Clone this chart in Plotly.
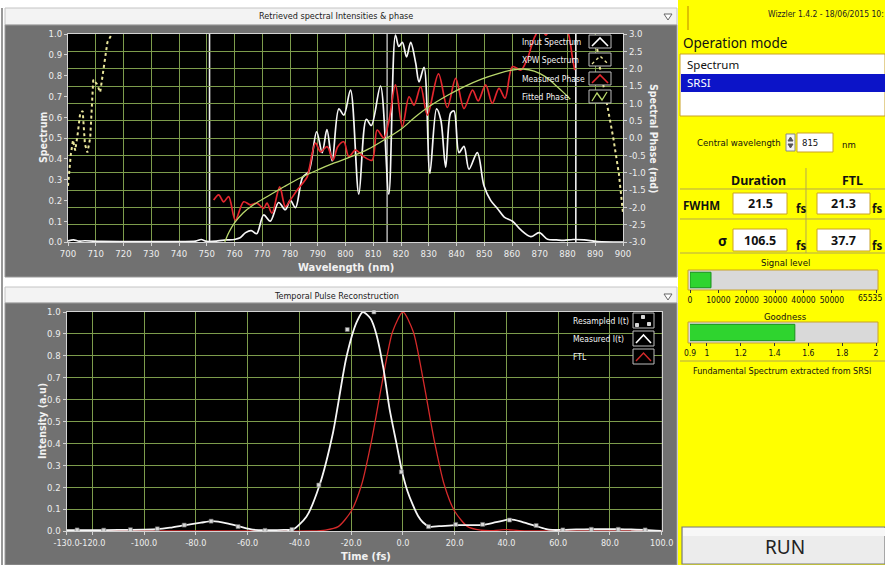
import plotly.graph_objects as go

W, H = 885, 565

# ---------------- spectral intensities & phase ----------------
input_wl = [700, 702, 704, 706, 712, 725, 740, 746, 748, 750, 754, 757, 760, 762, 764, 766, 768,
            770.5, 772.9, 775.9, 778.3, 780.1, 782, 784.5, 786.8, 789.6, 791.6, 793.3, 795.2,
            797.6, 799.4, 801.8, 804.8, 807.5, 809.3, 812.6, 815.6, 818, 819.2, 820.5, 822,
            823.5, 825.3, 826.5, 828.3, 830.4, 832.8, 834.3, 836.1, 837.9, 839.1, 840.9, 842.7,
            844.5, 847.5, 849.9, 852.3, 854.8, 857.2, 860.2, 863.2, 866.8, 869.8, 872.8, 876,
            878.8, 882, 886, 890.9, 900]
input_spec = [0.005, 0.01, 0.004, 0.006, 0.003, 0.002, 0.002, 0.004, 0.012, 0.003, 0.005, 0.01,
              0.012, 0.02, 0.045, 0.055, 0.04, 0.13, 0.10, 0.19, 0.155, 0.20, 0.165, 0.31, 0.34,
              0.53, 0.43, 0.54, 0.39, 0.64, 0.61, 0.73, 0.23, 0.59, 0.56, 0.75, 0.23, 0.995, 0.94,
              0.96, 0.89, 0.96, 0.86, 0.77, 0.84, 0.33, 0.64, 0.59, 0.36, 0.62, 0.63, 0.43, 0.46,
              0.35, 0.43, 0.27, 0.20, 0.16, 0.12, 0.10, 0.058, 0.026, 0.045, 0.013, 0.01, 0.008,
              0.012, 0.01, 0.002, 0.0]

xpw_wl = [700, 701, 701.8, 702.6, 703.5, 704.4, 705.3, 706.1, 707, 708, 709.1, 710.4, 711.6,
          712.8, 714.2, 715.8, 718, None, 889, 891.5, 894, 896.5, 898.5, 900]
xpw_spec = [0.27, 0.42, 0.49, 0.44, 0.52, 0.62, 0.63, 0.47, 0.43, 0.50, 0.78, 0.76, 0.72, 0.84,
            0.96, 1.0, 1.1, None, 1.1, 0.85, 0.68, 0.50, 0.33, 0.14]

phase_wl = [752.5, 754.3, 756.1, 757.9, 760.3, 763.3, 765.7, 768.1, 770.5, 771.7, 773.5, 776.3,
            778.3, 780.1, 782.6, 785, 786.2, 789.2, 791, 793.4, 795.5, 797.2, 799.4, 801.2,
            803.6, 806.6, 809.6, 811.4, 813.8, 815.6, 818, 820.5, 822.9, 824.7, 827.1, 829.5,
            833.5, 836.7, 839.7, 842.7, 845.8, 847.8, 850.5, 852.9, 855.3, 857.5, 860.2, 863.2,
            865.6, 868, 870.4, 872.2, 874, 877, 880, 881.8, 882.6]
phase_rad = [-1.79, -1.64, -1.84, -1.69, -2.37, -1.84, -1.93, -1.88, -2.03, -1.88, -2.17, -1.41,
             -1.98, -1.79, -1.50, -1.26, -1.12, -0.15, -0.40, -0.25, -0.64, -0.25, -0.11, -0.54,
             -0.35, -0.54, -0.64, 0.23, 0.0, 0.47, 1.53, 0.33, 1.19, 0.95, 1.48, 0.66,
             1.85, 0.88, 1.72, 0.85, 1.38, 1.07, 1.53, 1.0, 1.43, 1.15, 2.06, 1.96,
             2.30, 2.88, 3.2, 2.97, 3.2, 3.3, 3.07, 2.30, 1.96]

fit_wl = [756.5, 758, 760, 763, 767, 772, 778, 784, 790, 796, 802, 808, 815, 820, 825, 830, 837,
          843, 849, 855, 860, 864, 868, 872, 876, 879, 881]
fit_rad = [-3.0, -2.72, -2.45, -2.17, -1.92, -1.68, -1.40, -1.14, -0.92, -0.72, -0.54, -0.33, 0.0,
           0.25, 0.60, 0.90, 1.24, 1.49, 1.70, 1.86, 1.96, 1.99, 1.93, 1.77, 1.50, 1.28, 1.12]

cursor_wl = [751, 815, 883]
cursor_col = ['#f0f0f0', '#a8a8a8', '#f0f0f0']

wl_ticks = list(range(700, 901, 10))
spec_ticks = [0.0, 0.1, 0.2, 0.3, 0.4, 0.5, 0.6, 0.7, 0.8, 0.9, 1.0]
phase_ticks = [-3.0, -2.5, -2.0, -1.5, -1.0, -0.5, 0.0, 0.5, 1.0, 1.5, 2.0, 2.5, 3.0]

# ---------------- temporal pulse ----------------
meas_t = [-130, -120, -110, -100, -95, -90, -84, -78, -73.5, -68, -63, -58, -52, -46, -42.5,
          -37.3, -32.2, -27, -21.9, -18, -15.5, -12.5, -10.3, -7.5, -5.2, -2.5, -0.3, 1.8, 3.8,
          5.8, 7.7, 10.2, 14, 20.5, 25, 30.8, 36, 41.7, 46, 51.3, 55, 57.7, 61.6, 67, 73.1, 78,
          83.4, 88, 93.7, 100]
meas_I = [0.004, 0.004, 0.005, 0.006, 0.008, 0.015, 0.027, 0.038, 0.045, 0.035, 0.02, 0.006,
          0.004, 0.005, 0.007, 0.065, 0.21, 0.45, 0.79, 0.95, 1.0, 0.97, 0.90, 0.74, 0.56, 0.40,
          0.27, 0.18, 0.12, 0.07, 0.04, 0.02, 0.022, 0.027, 0.027, 0.028, 0.04, 0.053, 0.042,
          0.023, 0.01, 0.005, 0.005, 0.007, 0.008, 0.008, 0.008, 0.007, 0.005, 0.0]

resamp_t = [-125.9, -115.6, -105.3, -94.9, -84.5, -74.1, -63.7, -53.3, -42.9, -32.5, -21.5,
            -11.2, -0.6, 9.9, 20.4, 30.8, 41.2, 51.5, 61.8, 72.8, 83.2, 93.6]
resamp_I = [0.005, 0.004, 0.006, 0.01, 0.027, 0.045, 0.02, 0.003, 0.007, 0.21, 0.92, 1.0, 0.27,
            0.02, 0.03, 0.03, 0.05, 0.025, 0.005, 0.008, 0.008, 0.005]

ftl_t = [-130, -60, -35, -30, -25, -20, -16, -12, -8, -4, 0, 4, 8, 12, 16, 20, 25, 30, 35,
         40, 45, 60, 100]
ftl_I = [0.0, 0.0, 0.0, 0.004, 0.02, 0.09, 0.21, 0.42, 0.68, 0.91, 1.0, 0.91, 0.68, 0.42, 0.21,
         0.09, 0.02, 0.004, 0.002, 0.006, 0.002, 0.0, 0.0]

time_ticks = [-130, -120, -100, -80, -60, -40, -20, 0, 20, 40, 60, 80, 100]
int_ticks = [0.0, 0.1, 0.2, 0.3, 0.4, 0.5, 0.6, 0.7, 0.8, 0.9, 1.0]

# ---------------- control panel values ----------------
central_wavelength = 815
fwhm_duration, fwhm_ftl = 21.5, 21.3
sigma_duration, sigma_ftl = 106.5, 37.7
signal_level = 7400
signal_max = 65535
signal_ticks = [0, 10000, 20000, 30000, 40000, 50000, signal_max]
goodness = 1.52
goodness_ticks = [0.9, 1, 1.2, 1.4, 1.6, 1.8, 2]

# ---------------- styling ----------------
NARROW = "DejaVu Sans Condensed, Liberation Sans Narrow, Roboto Condensed, Arial Narrow, sans-serif"
UI = "Noto Sans, Open Sans, sans-serif"
GRID = '#7d9c4c'
AXL = '#d4d4d4'
PANEL = '#717171'
YELLOW = '#ffff00'
BOXLINE = '#c9a227'
SEP = '#b4a84e'
TICKF = dict(family=NARROW, size=9.5, color='#eeeeee')
TICKF_T = dict(family=NARROW, size=9, color='#eeeeee')


def X(px):
    return px / W


def Y(py):
    return 1 - py / H


shapes = []
annots = []


def rect(x0, y0, x1, y1, fill, line=None, lw=1, layer='below'):
    shapes.append(dict(type='rect', xref='paper', yref='paper', x0=X(x0), x1=X(x1),
                       y0=Y(y1), y1=Y(y0), fillcolor=fill, layer=layer,
                       line=dict(color=line if line else fill, width=lw if line else 0)))


def poly(pts, color, width=1, dash='solid', layer='above', fill=None):
    d = 'M ' + ' L '.join(f'{X(a):.5f},{Y(b):.5f}' for a, b in pts)
    if fill:
        d += ' Z'
    shapes.append(dict(type='path', xref='paper', yref='paper', path=d, layer=layer,
                       fillcolor=fill if fill else 'rgba(0,0,0,0)',
                       line=dict(color=color, width=width, dash=dash)))


def text(x, y, s, size=10, color='#111', anchor='center', family=UI, bold=False, angle=0):
    annots.append(dict(xref='paper', yref='paper', x=X(x), y=Y(y), xanchor=anchor,
                       yanchor='middle', showarrow=False, textangle=angle,
                       text=f'<b>{s}</b>' if bold else s,
                       font=dict(family=family, size=size, color=color)))


# ---- left side panels ----
rect(0, 0, 678, 565, '#ffffff')
rect(5, 8, 677, 25, '#f3f3f3', '#c4c4c4')
rect(5, 25, 677, 277, PANEL, '#9a9a9a')
rect(5, 287, 677, 303, '#f3f3f3', '#c4c4c4')
rect(5, 303, 677, 565, PANEL, '#9a9a9a')
rect(68, 34, 623, 242, '#000000')
rect(66.5, 312, 661.7, 531, '#000000')
poly([(2, 8), (2, 565)], '#333333', 1, layer='below')

text(336, 16, 'Retrieved spectral Intensities &amp; phase', 9, '#222', family=NARROW)
text(336, 296, 'Temporal Pulse Reconstruction', 9, '#222', family=NARROW)
for ty in (14, 294):
    poly([(664, ty), (672, ty), (668, ty + 6)], '#666666', 1, fill='#ffffff')

# axis titles
text(43, 138, 'Spectrum', 10.5, '#f2f2f2', family=NARROW, bold=True, angle=-90)
text(346, 268, 'Wavelength (nm)', 11, '#f2f2f2', family=NARROW, bold=True)
text(654, 138, 'Spectral Phase (rad)', 10.5, '#f2f2f2', family=NARROW, bold=True, angle=90)
text(42, 421, 'Intensity (a.u)', 10.5, '#f2f2f2', family=NARROW, bold=True, angle=-90)
text(366, 556, 'Time (fs)', 11, '#f2f2f2', family=NARROW, bold=True)

# legend of the spectral graph
leg_top = [('Input Spectrum', 42), ('XPW Spectrum', 60), ('Measured Phase', 79), ('Fitted Phase', 97)]
for name, cy in leg_top:
    text(520, cy, name, 8.5, '#f4f4f4', family=NARROW, anchor='left')
    rect(589, cy - 7, 611, cy + 6, '#000000', '#bdbdbd', 1, layer='above')
poly([(592, 46), (600, 38), (608, 46)], '#ffffff', 1.6)
poly([(592, 64), (600, 56), (608, 64)], '#e8e49a', 1.4, dash='dot')
poly([(592, 83), (600, 75), (608, 83)], '#e3262e', 1.6)
poly([(592, 101), (597, 93), (602, 100), (607, 92)], '#b9d86c', 1.3)

# legend of the temporal graph
leg_bot = [('Resampled I(t)', 321), ('Measured I(t)', 339), ('FTL', 357)]
for name, cy in leg_bot:
    text(571, cy, name, 8.5, '#f4f4f4', family=NARROW, anchor='left')
    rect(633, cy - 8, 654, cy + 7, '#000000', '#bdbdbd', 1, layer='above')
for (mx, my) in [(637, 325), (643, 317), (649, 324)]:
    rect(mx - 1.5, my - 1.5, mx + 1.5, my + 1.5, '#d8d8d8', '#d8d8d8', 1, layer='above')
poly([(636, 343), (643.5, 335), (651, 343)], '#ffffff', 1.6)
poly([(636, 361), (643.5, 353), (651, 361)], '#d42a2a', 1.4)

# ---- control panel (right) ----
rect(678, 0, 885, 565, YELLOW)
poly([(688, 6), (688, 30)], '#c89a00', 1.2, layer='below')
text(766, 14, 'Wizzler 1.4.2 - 18/06/2015 10:', 8.5, '#222', family=NARROW, anchor='left')
text(681, 43, 'Operation mode', 13.5, '#111', anchor='left')
rect(680, 54, 885, 116, '#ffffff', BOXLINE, 1)
text(685, 64, 'Spectrum', 11.5, '#111', anchor='left')
rect(681, 74, 885, 92, '#0c14c8')
text(685, 83, 'SRSI', 11.5, '#ffffff', anchor='left')

text(783, 142, 'Central wavelength', 9.5, '#111', family=NARROW, anchor='right')
rect(786, 134, 795, 151, '#f4f4f4', '#888888', 1)
poly([(788, 141), (790.5, 137), (793, 141)], '#555555', 1, fill='#555555')
poly([(788, 144), (790.5, 148), (793, 144)], '#555555', 1, fill='#555555')
rect(797, 133, 833, 152, '#ffffff', BOXLINE, 1)
text(800, 142.5, str(central_wavelength), 9.5, '#111', family=NARROW, anchor='left')
text(840, 144, 'nm', 9.5, '#111', family=NARROW, anchor='left')

# duration table
poly([(806, 168), (806, 253)], SEP, 1, layer='below')
for ly in (189, 219, 253):
    poly([(680, ly), (885, ly)], SEP, 1, layer='below')
text(758, 180, 'Duration', 12.5, '#111', bold=True)
text(852, 180, 'FTL', 12.5, '#111', bold=True)
text(681, 205, 'FWHM', 11.5, '#111', anchor='left', bold=True)
text(722, 241, 'σ', 14, '#111', bold=True)
cells = [(fwhm_duration, 733, 787, 193, 214), (fwhm_ftl, 817, 870, 193, 214),
         (sigma_duration, 733, 787, 229, 251), (sigma_ftl, 817, 870, 229, 251)]
for val, x0, x1, y0, y1 in cells:
    rect(x0, y0, x1, y1, '#ffffff', BOXLINE, 1)
    text((x0 + x1) / 2, (y0 + y1) / 2, f'{val:.1f}', 12.5, '#111', bold=True)
    if x1 < 850:
        text(x1 + 7, y1 - 5, 'fs', 11.5, '#111', anchor='left', bold=True)
    else:
        text(884, y1 - 5, 'fs', 11.5, '#111', anchor='right', bold=True)

# level indicators
text(785, 263, 'Signal level', 9.5, '#111', family=NARROW)
rect(688, 270, 878, 290, '#d9d9d9', BOXLINE, 1)
# the full-scale label sits against the window edge, so it is right-aligned there
text(884, 298, str(signal_max), 8.5, '#111', family=NARROW, anchor='right')
text(785, 316, 'Goodness', 9.5, '#111', family=NARROW)
rect(688, 322, 878, 343, '#d9d9d9', BOXLINE, 1)
poly([(680, 361), (885, 361)], SEP, 1, layer='below')
text(782, 371, 'Fundamental Spectrum extracted from SRSI', 9, '#111', family=NARROW)

# run button
rect(682, 527, 885, 564, '#ececec', '#7a7a7a', 1.2)
rect(683, 528, 885, 536, '#f7f7f7')
text(785, 547, 'RUN', 19, '#222', family=UI)

# ---------------- traces ----------------
fig = go.Figure()
fig.add_trace(go.Scatter(x=input_wl, y=input_spec, xaxis='x', yaxis='y', mode='lines',
                         line=dict(color='#f6f6f6', width=1.7, shape='spline', smoothing=0.9),
                         hoverinfo='skip', name='Input Spectrum'))
fig.add_trace(go.Scatter(x=xpw_wl, y=xpw_spec, xaxis='x', yaxis='y', mode='lines',
                         line=dict(color='#e8e49a', width=2, dash='dot'), connectgaps=False,
                         hoverinfo='skip', name='XPW Spectrum'))
fig.add_trace(go.Scatter(x=phase_wl, y=phase_rad, xaxis='x', yaxis='y2', mode='lines',
                         line=dict(color='#e3262e', width=1.7, shape='spline', smoothing=0.9),
                         hoverinfo='skip', name='Measured Phase'))
fig.add_trace(go.Scatter(x=fit_wl, y=fit_rad, xaxis='x', yaxis='y2', mode='lines',
                         line=dict(color='#b9d86c', width=1.3, shape='spline'),
                         hoverinfo='skip', name='Fitted Phase'))

fig.add_trace(go.Scatter(x=ftl_t, y=ftl_I, xaxis='x2', yaxis='y3', mode='lines',
                         line=dict(color='#d42a2a', width=1.3, shape='spline', smoothing=0.7),
                         hoverinfo='skip', name='FTL'))
fig.add_trace(go.Scatter(x=meas_t, y=meas_I, xaxis='x2', yaxis='y3', mode='lines',
                         line=dict(color='#f6f6f6', width=1.8, shape='spline', smoothing=0.7),
                         hoverinfo='skip', name='Measured I(t)'))
fig.add_trace(go.Scatter(x=resamp_t, y=resamp_I, xaxis='x2', yaxis='y3', mode='markers',
                         marker=dict(symbol='square', size=4, color='#d8d8d8',
                                     line=dict(color='#666666', width=0.6)),
                         cliponaxis=False, hoverinfo='skip', name='Resampled I(t)'))

fig.add_trace(go.Bar(x=[signal_level], y=[0.5], base=0, orientation='h', width=0.86,
                     xaxis='x3', yaxis='y4', marker=dict(color='#2fd42f', line=dict(color='#1b8f1b', width=1)),
                     hoverinfo='skip'))
fig.add_trace(go.Bar(x=[goodness], y=[0.5], orientation='h', width=0.86,
                     xaxis='x4', yaxis='y5', marker=dict(color='#2fd42f', line=dict(color='#1b8f1b', width=1)),
                     hoverinfo='skip'))

# cursors on the spectral graph
for cw, cc in zip(cursor_wl, cursor_col):
    shapes.append(dict(type='line', xref='x', yref='paper', x0=cw, x1=cw, y0=Y(242), y1=Y(34),
                       line=dict(color=cc, width=1.6), layer='between'))

common = dict(zeroline=False, showline=True, linecolor=AXL, linewidth=1, ticks='outside',
              ticklen=3, tickcolor=AXL, fixedrange=True, tickangle=0, automargin=False)
small = dict(zeroline=False, showline=False, showgrid=False, ticks='outside', ticklen=3,
             tickcolor='#333333', tickfont=dict(family=NARROW, size=8.5, color='#111'),
             fixedrange=True, tickangle=0, automargin=False)

fig.update_layout(
    width=W, height=H, autosize=False,
    margin=dict(l=0, r=0, t=0, b=0, pad=0, autoexpand=False),
    paper_bgcolor='#ffffff', plot_bgcolor='rgba(0,0,0,0)', showlegend=False,
    xaxis=dict(domain=[X(68), X(623)], range=[700, 900], anchor='y', tickvals=wl_ticks,
               ticktext=[str(v) for v in wl_ticks], showgrid=True, gridcolor=GRID,
               gridwidth=1, mirror=True, tickfont=TICKF, **common),
    yaxis=dict(domain=[Y(242), Y(34)], range=[0, 1], anchor='x', tickvals=spec_ticks,
               ticktext=[f'{v:.1f}' for v in spec_ticks], showgrid=False, mirror=True,
               tickfont=TICKF, **common),
    yaxis2=dict(overlaying='y', side='right', anchor='x', range=[-3, 3], tickvals=phase_ticks,
                ticktext=[f'{v:.1f}' for v in phase_ticks], showgrid=True, gridcolor=GRID,
                gridwidth=1, tickfont=TICKF, **common),
    xaxis2=dict(domain=[X(66.5), X(661.7)], range=[-130, 100], anchor='y3', tickvals=time_ticks,
                ticktext=[f'{v:.1f}' for v in time_ticks], showgrid=True, gridcolor=GRID,
                gridwidth=1, mirror=True, tickfont=TICKF_T, **common),
    yaxis3=dict(domain=[Y(531), Y(312)], range=[0, 1], anchor='x2', tickvals=int_ticks,
                ticktext=[f'{v:.1f}' for v in int_ticks], showgrid=True, gridcolor=GRID,
                gridwidth=1, mirror=True, tickfont=TICKF, **common),
    xaxis3=dict(domain=[X(690), X(876)], range=[0, signal_max], anchor='y4', tickvals=signal_ticks,
                ticktext=[str(v) if v != signal_max else '' for v in signal_ticks], **small),
    yaxis4=dict(domain=[Y(289), Y(271)], range=[0, 1], anchor='x3', visible=False, fixedrange=True),
    xaxis4=dict(domain=[X(690), X(876)], range=[0.9, 2], anchor='y5', tickvals=goodness_ticks,
                ticktext=[str(v) for v in goodness_ticks], **small),
    yaxis5=dict(domain=[Y(342), Y(323)], range=[0, 1], anchor='x4', visible=False, fixedrange=True),
    shapes=shapes, annotations=annots,
)

# page chrome: no margins or scrollbars, the figure fills the window exactly
PAGE_JS = (
    "var de=document.documentElement, b=document.body;"
    "de.style.margin='0'; de.style.padding='0'; de.style.overflow='hidden';"
    "b.style.margin='0'; b.style.padding='0'; b.style.overflow='hidden';"
    "var w=b.firstElementChild; if (w) { w.style.width='885px'; w.style.height='565px';"
    " w.style.overflow='hidden'; }"
)
fig.write_html("out.html", post_script=PAGE_JS, config={'displayModeBar': False})
